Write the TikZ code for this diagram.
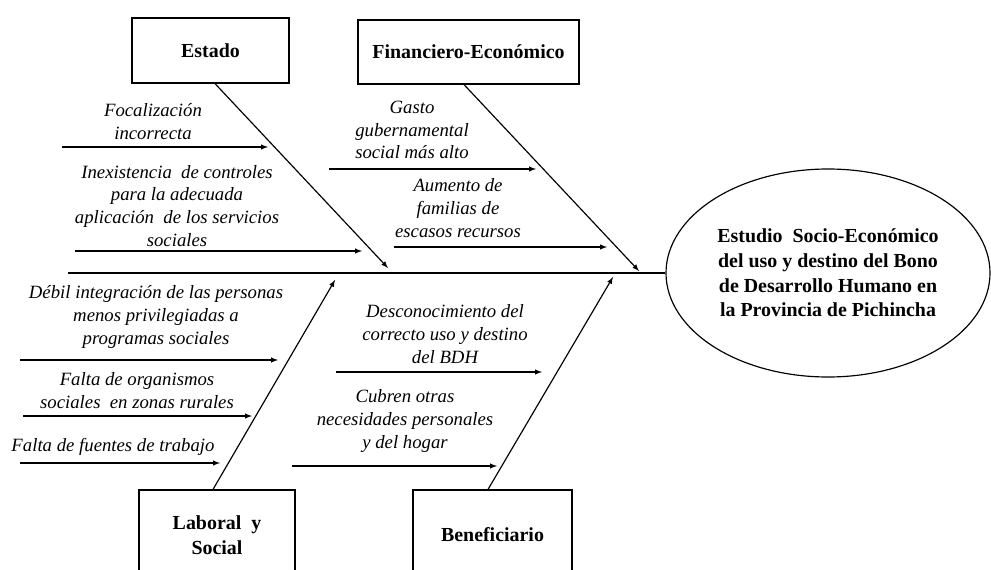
\documentclass[tikz,border=0pt]{standalone}
\usepackage{fontspec}
\setmainfont{Liberation Serif}
\usetikzlibrary{shapes,arrows,calc}

\tikzset{
  catbox/.style={draw, line width=1pt, font=\bfseries\fontsize{17}{21}\selectfont, align=center, inner sep=0pt},
  cause/.style={font=\itshape\fontsize{16}{19.5}\selectfont, align=center, inner sep=0pt},
  bone/.style={->, >=latex, line width=1pt},
}

\begin{document}
\begin{tikzpicture}[x=0.3mm, y=-0.3mm]
\useasboundingbox (0,0) rectangle (991,569);
\clip (0,0) rectangle (991,569);

% Categorias
\node[catbox, minimum width=47.1mm, minimum height=19.5mm] (estado) at (210.5,50.5) {Estado};
\node[catbox, minimum width=66.3mm, minimum height=19.2mm] (finan) at (468.5,52) {Financiero-Económico};
\node[catbox, minimum width=46.8mm, minimum height=27mm] (laboral) at (217,535) {Laboral\ \ y\\Social};
\node[catbox, minimum width=47.7mm, minimum height=27mm] (benef) at (492.5,535) {Beneficiario};

% Efecto
\node[ellipse, draw, line width=1pt, minimum width=97.2mm, minimum height=62.4mm, inner sep=0pt,
      font=\bfseries\fontsize{17}{21}\selectfont, align=center] (efecto) at (828,273)
  {Estudio\ \ Socio-Económico\\del uso y destino del Bono\\de Desarrollo Humano en\\la Provincia de Pichincha};

% Espina
\coordinate (cola) at (68,273);
\draw[line width=1pt] (cola) -- (efecto.west);

\coordinate (estado-fin) at (388,268);
\coordinate (finan-fin) at (639,271);
\coordinate (laboral-fin) at (335,280);
\coordinate (benef-fin) at (613,277);
\draw[bone] ($(estado.south)+(4.5,0)$) -- (estado-fin);
\draw[bone] ($(finan.south)+(-4.5,0)$) -- (finan-fin);
\draw[bone] ($(laboral.north)+(-4,0)$) -- (laboral-fin);
\draw[bone] ($(benef.north)+(-4.5,0)$) -- (benef-fin);

% Causas
\node[cause] (focal) at (153,122) {Focalización\\incorrecta};
\node[cause] (inex) at (177,206) {Inexistencia\ \ de controles\\para la adecuada\\aplicación\ \ de los servicios\\sociales};
\node[cause] (gasto) at (412,130) {Gasto\\gubernamental\\social más alto};
\node[cause] (aumento) at (458,208) {Aumento de\\familias de\\escasos recursos};
\node[cause] (debil) at (156,317) {Débil integración de las personas\\menos privilegiadas a\\programas sociales};
\node[cause] (organ) at (137,391) {Falta de organismos\\sociales\ \ en zonas rurales};
\node[cause] (fuentes) at (113,447) {Falta de fuentes de trabajo};
\node[cause] (descon) at (445,334) {Desconocimiento del\\correcto uso y destino\\del BDH};
\node[cause] (cubren) at (405,421) {Cubren otras\\necesidades personales\\y del hogar};

\foreach \n/\xa/\xb/\y in {focal/62/268/147, inex/75/362/251, gasto/329/536/169, aumento/394/607/247,
    debil/20/278/360, organ/23/252/416, fuentes/20/220/463, descon/336/542/372, cubren/292/497/466}
{
  \coordinate (\n-a) at (\xa,\y);
  \coordinate (\n-b) at (\xb,\y);
  \draw[bone] (\n-a) -- (\n-b);
}

\end{tikzpicture}
\end{document}
